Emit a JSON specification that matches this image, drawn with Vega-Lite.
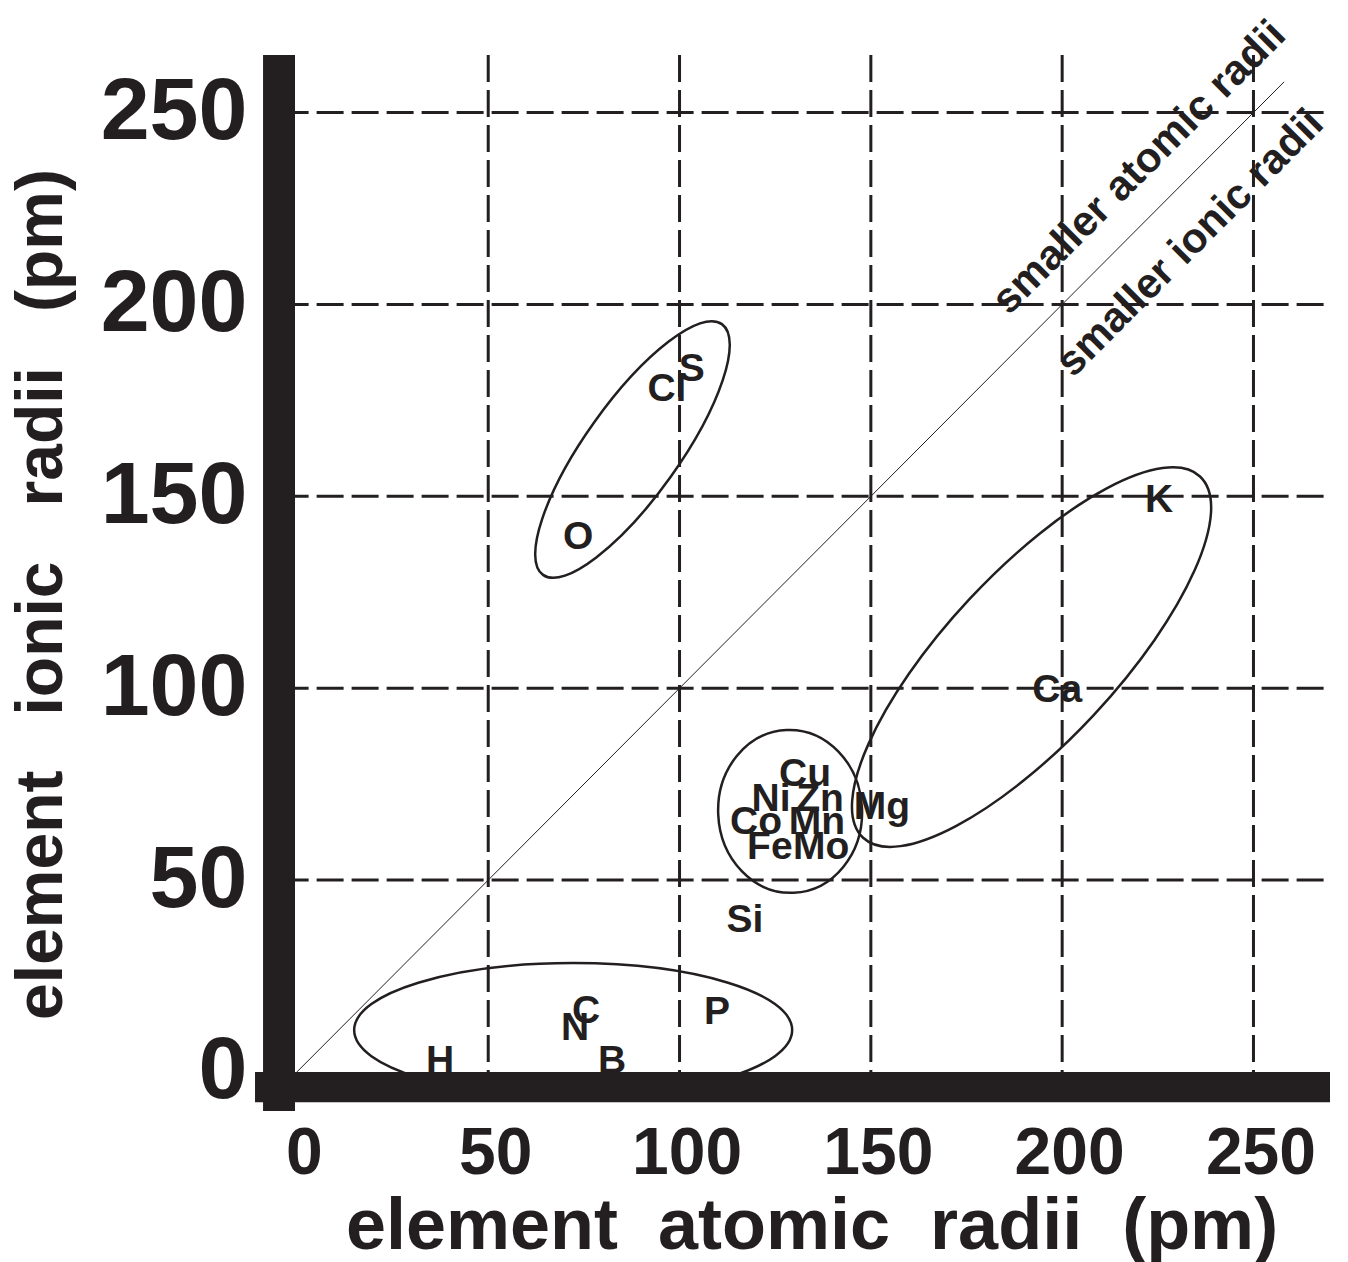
{
  "$schema": "https://vega.github.io/schema/vega-lite/v6.json",
  "width": 1079,
  "height": 1063,
  "autosize": "none",
  "padding": {"left": 251, "top": 55, "right": 18, "bottom": 144},
  "background": "white",
  "config": {
    "view": {"stroke": null},
    "axis": {"domain": false, "ticks": false, "grid": false, "labelFont": "Liberation Sans", "labelFontWeight": "bold", "labelColor": "#231f20", "labelOverlap": false, "labelFlush": false, "titleFont": "Liberation Sans", "titleFontWeight": "bold", "titleColor": "#231f20", "titleBaseline": "alphabetic", "titleAlign": "center"},
    "axisX": {"labelFontSize": 66, "labelPadding": 3, "labelOffset": 7, "titleFontSize": 72, "titleX": 560.5, "titleY": 130, "titleAngle": 0},
    "axisY": {"labelFontSize": 88, "labelPadding": 4, "titleFontSize": 66, "titleX": -190, "titleY": 539, "titleAngle": 270}
  },
  "datasets": {
    "grid": [{"v": 50}, {"v": 100}, {"v": 150}, {"v": 200}, {"v": 250}],
    "elements": [
      {"el": "O", "atomic": 73.5, "ionic": 139.9},
      {"el": "Cl", "atomic": 96.7, "ionic": 178.5},
      {"el": "S", "atomic": 103.2, "ionic": 183.7},
      {"el": "K", "atomic": 225.3, "ionic": 149.6},
      {"el": "Ca", "atomic": 198.7, "ionic": 100.1},
      {"el": "Cu", "atomic": 132.8, "ionic": 78.2},
      {"el": "Ni", "atomic": 123.9, "ionic": 71.7},
      {"el": "Zn", "atomic": 136.7, "ionic": 71.7},
      {"el": "Mg", "atomic": 152.9, "ionic": 69.6},
      {"el": "Co", "atomic": 120.0, "ionic": 65.7},
      {"el": "Mn", "atomic": 135.9, "ionic": 65.7},
      {"el": "Fe", "atomic": 123.6, "ionic": 59.2},
      {"el": "Mo", "atomic": 137.0, "ionic": 59.2},
      {"el": "Si", "atomic": 117.1, "ionic": 40.1},
      {"el": "P", "atomic": 109.8, "ionic": 16.2},
      {"el": "C", "atomic": 75.6, "ionic": 16.4},
      {"el": "N", "atomic": 72.7, "ionic": 12.0},
      {"el": "B", "atomic": 82.4, "ionic": 3.4},
      {"el": "H", "atomic": 37.4, "ionic": 3.4}
    ],
    "notes": [
      {"note": "smaller atomic radii", "atomic": 220.1, "ionic": 235.7},
      {"note": "smaller ionic radii", "atomic": 233.4, "ionic": 216.0}
    ]
  },
  "layer": [
    {
      "data": {"name": "grid"},
      "mark": {"type": "rule", "strokeDash": [27, 8], "strokeWidth": 3, "color": "#231f20"},
      "encoding": {
        "x": {"field": "v", "type": "quantitative", "scale": {"domain": [-12, 270], "nice": false, "zero": false},
          "axis": {"values": [0, 50, 100, 150, 200, 250],
            "title": "element\u00a0\u00a0atomic\u00a0\u00a0radii\u00a0\u00a0(pm)"}},
        "y": {"datum": 265, "scale": {"domain": [-12, 265], "nice": false, "zero": false}},
        "y2": {"datum": -8}
      }
    },
    {
      "data": {"name": "grid"},
      "mark": {"type": "rule", "strokeDash": [27, 8], "strokeWidth": 3, "color": "#231f20"},
      "encoding": {
        "y": {"field": "v", "type": "quantitative", "scale": {"domain": [-12, 265], "nice": false, "zero": false},
          "axis": {"values": [0, 50, 100, 150, 200, 250],
            "title": "element\u00a0\u00a0\u00a0ionic\u00a0\u00a0\u00a0radii\u00a0\u00a0\u00a0(pm)"}},
        "x": {"datum": -4, "scale": {"domain": [-12, 270], "nice": false, "zero": false}},
        "x2": {"datum": 270}
      }
    },
    {
      "data": {"values": [{"line": "equal radii"}]},
      "mark": {"type": "rule", "strokeWidth": 1, "color": "#231f20"},
      "encoding": {
        "x": {"datum": 0, "scale": {"domain": [-12, 270], "nice": false, "zero": false}},
        "y": {"datum": 0, "scale": {"domain": [-12, 265], "nice": false, "zero": false}},
        "x2": {"datum": 258},
        "y2": {"datum": 258}
      }
    },
    {
      "data": {"values": [{"group": "O S Cl", "cx": 87.7, "cy": 162.2}]},
      "mark": {"type": "point", "filled": false, "opacity": 1, "stroke": "#231f20", "strokeWidth": 2.5, "size": 94864, "angle": 305.5,
        "shape": "M1,0C1,0.1684 0.5523,0.305 0,0.305C-0.5523,0.305 -1,0.1684 -1,0C-1,-0.1684 -0.5523,-0.305 0,-0.305C0.5523,-0.305 1,-0.1684 1,0Z"},
      "encoding": {
        "x": {"field": "cx", "type": "quantitative", "scale": {"domain": [-12, 270], "nice": false, "zero": false}},
        "y": {"field": "cy", "type": "quantitative", "scale": {"domain": [-12, 265], "nice": false, "zero": false}}
      }
    },
    {
      "data": {"values": [{"group": "transition metals", "cx": 128.9, "cy": 67.9}]},
      "mark": {"type": "point", "filled": false, "opacity": 1, "stroke": "#231f20", "strokeWidth": 2.5, "size": 26569, "angle": 87.5,
        "shape": "M1,0C1,0.4877 0.5523,0.883 0,0.883C-0.5523,0.883 -1,0.4877 -1,0C-1,-0.4877 -0.5523,-0.883 0,-0.883C0.5523,-0.883 1,-0.4877 1,0Z"},
      "encoding": {
        "x": {"field": "cx", "type": "quantitative", "scale": {"domain": [-12, 270], "nice": false, "zero": false}},
        "y": {"field": "cy", "type": "quantitative", "scale": {"domain": [-12, 265], "nice": false, "zero": false}}
      }
    },
    {
      "data": {"values": [{"group": "K Ca Mg", "cx": 192.0, "cy": 108.1}]},
      "mark": {"type": "point", "filled": false, "opacity": 1, "stroke": "#231f20", "strokeWidth": 2.5, "size": 244036, "angle": 313,
        "shape": "M1,0C1,0.19 0.5523,0.344 0,0.344C-0.5523,0.344 -1,0.19 -1,0C-1,-0.19 -0.5523,-0.344 0,-0.344C0.5523,-0.344 1,-0.19 1,0Z"},
      "encoding": {
        "x": {"field": "cx", "type": "quantitative", "scale": {"domain": [-12, 270], "nice": false, "zero": false}},
        "y": {"field": "cy", "type": "quantitative", "scale": {"domain": [-12, 265], "nice": false, "zero": false}}
      }
    },
    {
      "data": {"values": [{"group": "H B C N P", "cx": 72.2, "cy": 10.9}]},
      "mark": {"type": "point", "filled": false, "opacity": 1, "stroke": "#231f20", "strokeWidth": 2.5, "size": 191844, "angle": 0,
        "shape": "M1,0C1,0.169 0.5523,0.306 0,0.306C-0.5523,0.306 -1,0.169 -1,0C-1,-0.169 -0.5523,-0.306 0,-0.306C0.5523,-0.306 1,-0.169 1,0Z"},
      "encoding": {
        "x": {"field": "cx", "type": "quantitative", "scale": {"domain": [-12, 270], "nice": false, "zero": false}},
        "y": {"field": "cy", "type": "quantitative", "scale": {"domain": [-12, 265], "nice": false, "zero": false}}
      }
    },
    {
      "data": {"name": "elements"},
      "mark": {"type": "text", "font": "Liberation Sans", "fontWeight": "bold", "fontSize": 39, "color": "#231f20", "align": "center", "baseline": "middle", "dy": 2},
      "encoding": {
        "x": {"field": "atomic", "type": "quantitative", "scale": {"domain": [-12, 270], "nice": false, "zero": false}},
        "y": {"field": "ionic", "type": "quantitative", "scale": {"domain": [-12, 265], "nice": false, "zero": false}},
        "text": {"field": "el", "type": "nominal"}
      }
    },
    {
      "data": {"name": "notes"},
      "mark": {"type": "text", "font": "Liberation Sans", "fontWeight": "bold", "fontSize": 42, "color": "#231f20", "align": "center", "baseline": "middle", "angle": 315},
      "encoding": {
        "x": {"field": "atomic", "type": "quantitative", "scale": {"domain": [-12, 270], "nice": false, "zero": false}},
        "y": {"field": "ionic", "type": "quantitative", "scale": {"domain": [-12, 265], "nice": false, "zero": false}},
        "text": {"field": "note", "type": "nominal"}
      }
    },
    {
      "data": {"values": [{"bar": "y axis"}]},
      "mark": {"type": "rect", "color": "#231f20"},
      "encoding": {
        "x": {"datum": -8.85, "scale": {"domain": [-12, 270], "nice": false, "zero": false}},
        "x2": {"datum": -0.5},
        "y": {"datum": -10.2, "scale": {"domain": [-12, 265], "nice": false, "zero": false}},
        "y2": {"datum": 265}
      }
    },
    {
      "data": {"values": [{"bar": "x axis"}]},
      "mark": {"type": "rect", "color": "#231f20"},
      "encoding": {
        "x": {"datum": -10.95, "scale": {"domain": [-12, 270], "nice": false, "zero": false}},
        "x2": {"datum": 270},
        "y": {"datum": -7.9, "scale": {"domain": [-12, 265], "nice": false, "zero": false}},
        "y2": {"datum": 0}
      }
    }
  ]
}
